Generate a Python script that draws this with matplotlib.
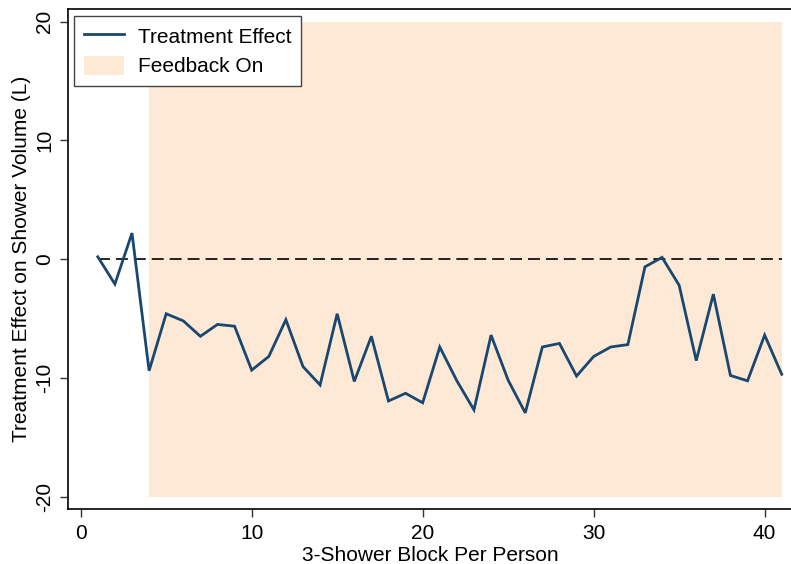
import matplotlib
matplotlib.use("Agg")
import matplotlib.pyplot as plt
from matplotlib.lines import Line2D
from matplotlib.patches import Patch

plt.rcParams['font.family'] = ['Liberation Sans', 'DejaVu Sans']
plt.rcParams['axes.unicode_minus'] = False
plt.rcParams['lines.scale_dashes'] = False

# Data
blocks = list(range(1, 42))
effect = [0.2, -2.1, 2.2, -9.4, -4.6, -5.2, -6.5, -5.5, -5.65, -9.35,
          -8.2, -5.1, -9.05, -10.6, -4.6, -10.3, -6.5, -11.95, -11.3, -12.1,
          -7.4, -10.25, -12.7, -6.4, -10.2, -12.95, -7.4, -7.1, -9.85, -8.2,
          -7.4, -7.2, -0.65, 0.15, -2.2, -8.55, -2.95, -9.8, -10.25, -6.4,
          -9.7]
feedback_start, feedback_end = 4, 41
shade_low, shade_high = -20, 20
xticks = [0, 10, 20, 30, 40]
yticks = [-20, -10, 0, 10, 20]

navy = '#1A476F'
peach = '#FDE9D6'

fig = plt.figure(figsize=(7.91, 5.64), dpi=100)
ax = fig.add_axes([67.7 / 791, (564 - 509) / 564, (792 - 67.7) / 791, (509 - 9.3) / 564])

ax.fill_between([feedback_start, feedback_end], shade_low, shade_high,
                color=peach, linewidth=0, zorder=1)
ax.plot([blocks[0], blocks[-1]], [0, 0], color='black', lw=1.2,
        dashes=(8.6, 4.3), zorder=2)
ax.plot(blocks, effect, color=navy, lw=2.0, zorder=3, solid_joinstyle='miter')

ax.set_xlim(-0.76, 41.6)
ax.set_ylim(-21.05, 21.05)
ax.set_xticks(xticks)
ax.set_yticks(yticks)
ax.tick_params(axis='both', direction='out', length=5.8, width=1.0,
               labelsize=15, color='#333333')
ax.tick_params(axis='x', pad=5)
ax.tick_params(axis='y', pad=4)
for lab in ax.get_yticklabels():
    lab.set_rotation(90)
    lab.set_va('center')
for sp in ax.spines.values():
    sp.set_linewidth(1.2)
    sp.set_color('black')

ax.set_xlabel('3-Shower Block Per Person', fontsize=15, labelpad=2)
ax.set_ylabel('Treatment Effect on Shower Volume (L)', fontsize=15, labelpad=3)

handles = [Line2D([0], [0], color=navy, lw=2.0),
           Patch(facecolor=peach, edgecolor='none')]
leg = ax.legend(handles, ['Treatment Effect', 'Feedback On'], loc='upper left',
                bbox_to_anchor=(74 / 791, 1 - 16 / 564), bbox_transform=fig.transFigure,
                fontsize=15, frameon=True, fancybox=False, framealpha=1,
                edgecolor='#444444', borderpad=0.48, handlelength=1.92,
                handleheight=1.05, handletextpad=0.66, labelspacing=0.42,
                borderaxespad=0)
leg.get_frame().set_linewidth(1.0)

fig.savefig('out.png', dpi=100)
